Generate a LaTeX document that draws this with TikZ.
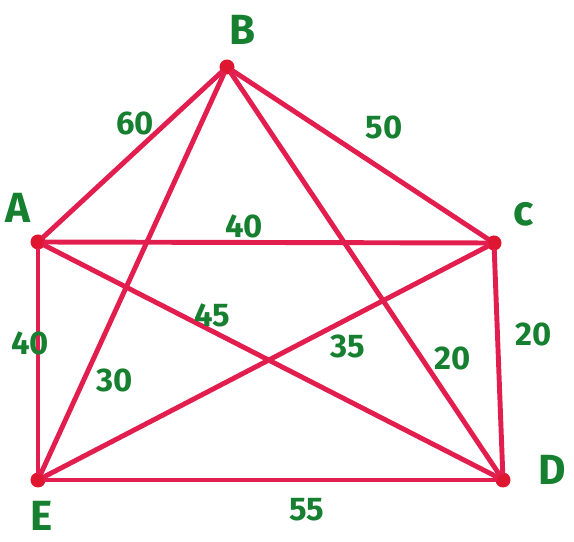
\documentclass[tikz,border=0pt]{standalone}
\usepackage{fontspec}
\setmainfont{Fira Sans}
\usepackage{tikz}
\usetikzlibrary{positioning}
\definecolor{edgered}{RGB}{226,30,78}
\definecolor{dotred}{RGB}{222,22,48}
\definecolor{markgreen}{RGB}{22,128,48}

\begin{document}
\begin{tikzpicture}[
x=0.03cm, y=-0.03cm,
vertex/.style={circle, fill=dotred, inner sep=0pt, minimum size=4.5mm},
vname/.style={text=markgreen, inner sep=0pt, font=\fontsize{36}{36}\selectfont\bfseries},
weight/.style={text=markgreen, inner sep=0pt, font=\fontsize{28}{28}\selectfont\bfseries},
edge/.style={edgered, line width=4.2pt, line cap=round}
]
\useasboundingbox (0,0) rectangle (574,542);
\node[vertex] (b) at (227,67) {};
\node[vertex] (a) at (38,242) {};
\node[vertex] (c) at (494,243) {};
\node[vertex] (e) at (38,480) {};
\node[vertex] (d) at (503,480) {};
\node[vname] (lb) at (243,30) {B};
\node[vname] (la) at (18,208) {A};
\node[vname] (lc) at (524,214) {c};
\node[vname] (ld) at (552,470) {D};
\node[vname] (le) at (42,516) {E};
\draw[edge] (a) -- (b);
\draw[edge] (b) -- (c);
\draw[edge] (a) -- (c);
\draw[edge] (a) -- (e);
\draw[edge] (a) -- (d);
\draw[edge] (b) -- (e);
\draw[edge] (b) -- (d);
\draw[edge] (e) -- (c);
\draw[edge] (c) -- (d);
\draw[edge] (e) -- (d);
\node[weight] (wab) at (135,123) {60};
\node[weight] (wbc) at (384,127) {50};
\node[weight] (wac) at (244,226) {40};
\node[weight] (wad) at (212,315) {45};
\node[weight] (wec) at (348,346) {35};
\node[weight] (wbd) at (453,358) {20};
\node[weight] (wbe) at (115,380) {30};
\node[weight] (wae) at (30,343) {40};
\node[weight] (wcd) at (534,334) {20};
\node[weight] (wed) at (307,510) {55};
\end{tikzpicture}
\end{document}
